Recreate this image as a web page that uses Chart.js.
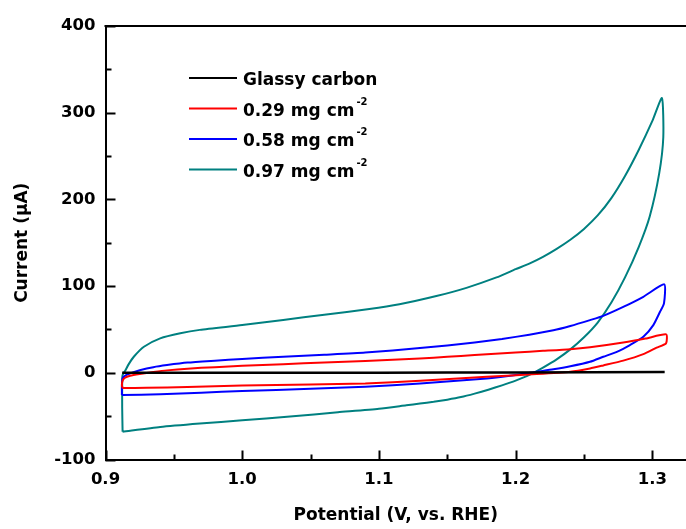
<!DOCTYPE html>
<html>
<head>
<meta charset="utf-8">
<script src="https://cdn.jsdelivr.net/npm/chart.js@4.4.0/dist/chart.umd.min.js"></script>
<style>
  body { margin: 0; background: #fff; }
</style>
</head>
<body>
<canvas id="cv" width="686" height="529"></canvas>
<script>
// axis ticks
var xTicks = [0.9, 1.0, 1.1, 1.2, 1.3];
var xMinor = [0.95, 1.05, 1.15, 1.25];
var yTicks = [-100, 0, 100, 200, 300, 400];
var yMinor = [-50, 50, 150, 250, 350];

// legend
var seriesLabels = ['Glassy carbon', '0.29 mg cm', '0.58 mg cm', '0.97 mg cm'];
var labelSup = ['', '-2', '-2', '-2'];
var seriesColors = ['#000000', '#ff0000', '#0000ff', '#008080'];

// glassy carbon (flat)
var gcV = [0.9122, 1.0, 1.1, 1.2, 1.309];
var gcI = [0, 0, 0.2, 0.4, 0.8];

// 0.29 mg cm-2 : forward scan then return
var r29V = [0.9125, 0.912, 0.9125, 0.914, 0.918, 0.925, 0.935, 0.945, 0.96, 0.98, 1.0, 1.03, 1.06, 1.09, 1.13, 1.15, 1.17, 1.2, 1.22, 1.24, 1.2544, 1.2787, 1.295, 1.3101, 1.31,
            1.3031, 1.2934, 1.2787, 1.2641, 1.2544, 1.24, 1.2154, 1.1789, 1.1302, 1.09, 1.05, 1.0, 0.96, 0.93, 0.9125];
var r29I = [-17.5, -14, -9, -6, -3.5, -1.5, 0.8, 2.8, 4.8, 6.5, 8, 10, 11.8, 13.5, 16.6, 18.4, 20.6, 23.5, 25.3, 27.2, 29.5, 35, 39.5, 44.3, 34,
            29, 21.5, 14, 8.5, 5, 1.2, -1.5, -4.6, -9.2, -12.3, -13.5, -14.6, -16.3, -17.3, -17.5];

// 0.58 mg cm-2
var r58V = [0.912, 0.912, 0.9125, 0.915, 0.92, 0.925, 0.935, 0.945, 0.96, 0.98, 1.0, 1.03, 1.06, 1.09, 1.13, 1.15, 1.17, 1.19, 1.21, 1.2276, 1.24, 1.2544, 1.2641, 1.2787, 1.2934, 1.3087, 1.3085,
            1.3056, 1.3007, 1.2934, 1.2836, 1.274, 1.2641, 1.2544, 1.24, 1.2276, 1.2154, 1.2, 1.1789, 1.1302, 1.09, 1.05, 1.0, 0.97, 0.94, 0.912];
var r58I = [-25.7, -15, -6.5, -2.7, 0.5, 3, 6.5, 8.9, 11.8, 14, 16, 18.5, 20.8, 23.3, 28.5, 31.5, 35, 39, 44, 49, 54, 60.8, 65.7, 76, 87.7, 102, 80,
            70.4, 55, 41.5, 32, 24.2, 18.5, 12.7, 7.5, 4, 1.2, -2.5, -6.5, -12.3, -16, -18.5, -21, -23, -24.8, -25.7];

// 0.97 mg cm-2
var r97V = [0.9125, 0.9122, 0.9122, 0.9125, 0.9146, 0.917, 0.9207, 0.9281, 0.94, 0.9547, 0.969, 1.0, 1.03, 1.06, 1.093, 1.115, 1.142, 1.164, 1.186, 1.2, 1.21, 1.22, 1.23, 1.24, 1.25, 1.26, 1.27, 1.28, 1.29, 1.3, 1.307,
            1.308, 1.305, 1.298, 1.29, 1.28, 1.27, 1.26, 1.25, 1.24, 1.23, 1.22, 1.21, 1.2, 1.19, 1.18, 1.17, 1.16, 1.15, 1.14, 1.13, 1.12, 1.1, 1.07, 1.035, 1.0, 0.969, 0.94, 0.9125];
var r97I = [-68, -40, -10, -2.6, 3, 10, 18.5, 30, 39.7, 45.6, 49.5, 55, 61, 67, 73.5, 79, 88.5, 98, 110, 119.5, 126, 133.8, 143, 153.5, 166, 181.5, 201.5, 227, 257, 290.5, 317,
            272, 230, 180, 145, 110, 81, 58, 41, 27, 15.5, 6, -2.5, -9, -14.5, -19.5, -24, -28, -31, -33.5, -35.5, -37.5, -41.5, -45.6, -50.5, -54.8, -58.5, -62.5, -68];

function pts(v, i) {
    var out = [];
    for (var k = 0; k < v.length; k++) out.push({ x: v[k], y: i[k] });
    return out;
}

var seriesData = [pts(gcV, gcI), pts(r29V, r29I), pts(r58V, r58I), pts(r97V, r97I)];

var font = 'DejaVu Sans';

// frame, inward ticks and legend
var frame = {
    id: 'frame',
    afterDraw: function(chart) {
        var ctx = chart.ctx;
        var a = chart.chartArea;
        var xs = chart.scales.x;
        var ys = chart.scales.y;
        ctx.save();
        ctx.strokeStyle = '#000';
        ctx.lineWidth = 2;
        ctx.beginPath();
        ctx.moveTo(a.left - 1, a.top);
        ctx.lineTo(a.right, a.top);
        xTicks.forEach(function(v) {
            var p = Math.round(xs.getPixelForValue(v)) + 0.5;
            ctx.moveTo(p, a.bottom); ctx.lineTo(p, a.bottom - 9);
        });
        xMinor.forEach(function(v) {
            var p = Math.round(xs.getPixelForValue(v)) + 0.5;
            ctx.moveTo(p, a.bottom); ctx.lineTo(p, a.bottom - 5);
        });
        yTicks.forEach(function(v) {
            var p = Math.round(ys.getPixelForValue(v)) + 0.5;
            ctx.moveTo(a.left, p); ctx.lineTo(a.left + 10, p);
        });
        yMinor.forEach(function(v) {
            var p = Math.round(ys.getPixelForValue(v)) + 0.5;
            ctx.moveTo(a.left, p); ctx.lineTo(a.left + 6, p);
        });
        ctx.stroke();

        // legend
        var lx = 189, ly = 78, step = 30.5;
        for (var k = 0; k < seriesLabels.length; k++) {
            var y = ly + k * step;
            ctx.strokeStyle = seriesColors[k];
            ctx.lineWidth = 2;
            ctx.beginPath();
            ctx.moveTo(lx, y); ctx.lineTo(lx + 48, y);
            ctx.stroke();
            ctx.fillStyle = '#000';
            ctx.textBaseline = 'alphabetic';
            ctx.textAlign = 'left';
            ctx.font = 'bold 17px "' + font + '"';
            ctx.fillText(seriesLabels[k], lx + 54, y + 7);
            if (labelSup[k]) {
                var w = ctx.measureText(seriesLabels[k]).width;
                ctx.font = 'bold 10px "' + font + '"';
                ctx.fillText(labelSup[k], lx + 54 + w + 2, y - 4);
            }
        }
        ctx.restore();
    }
};

var datasets = [];
for (var k = 0; k < seriesData.length; k++) {
    datasets.push({
        label: seriesLabels[k] + labelSup[k],
        data: seriesData[k],
        showLine: true,
        borderColor: seriesColors[k],
        borderWidth: k == 0 ? 2.5 : 2,
        pointRadius: 0,
        tension: 0.2,
        fill: false
    });
}

var tickFont = { family: font, weight: 'bold', size: 16.5 };
var titleFont = { family: font, weight: 'bold', size: 17 };

new Chart(document.getElementById('cv'), {
    type: 'scatter',
    data: { datasets: datasets },
    options: {
        responsive: false,
        animation: false,
        devicePixelRatio: 1,
        layout: { padding: { top: 26, right: 0, left: 0, bottom: 0 } },
        plugins: { legend: { display: false }, tooltip: { enabled: false } },
        scales: {
            x: {
                type: 'linear',
                min: 0.9,
                max: 1.3246,
                afterBuildTicks: function(s) { s.ticks = xTicks.map(function(v) { return { value: v }; }); },
                afterFit: function(s) { s.height = 69.5; },
                grid: { display: false, drawTicks: false },
                border: { display: true, color: '#000', width: 2 },
                ticks: {
                    color: '#000', font: tickFont, padding: 10, maxRotation: 0,
                    callback: function(v) { return v.toFixed(1); }
                },
                title: { display: true, text: 'Potential (V, vs. RHE)', color: '#000', font: titleFont, padding: { top: 0, bottom: 3 } }
            },
            y: {
                type: 'linear',
                min: -100,
                max: 400,
                afterBuildTicks: function(s) { s.ticks = yTicks.map(function(v) { return { value: v }; }); },
                afterFit: function(s) { s.width = 105.5; },
                grid: { display: false, drawTicks: false },
                border: { display: true, color: '#000', width: 2 },
                ticks: {
                    color: '#000', font: tickFont, padding: 10,
                    callback: function(v) { return String(v); }
                },
                title: { display: true, text: 'Current (\u03bcA)', color: '#000', font: titleFont, padding: { top: 12, bottom: 0 } }
            }
        }
    },
    plugins: [frame]
});
</script>
</body>
</html>
